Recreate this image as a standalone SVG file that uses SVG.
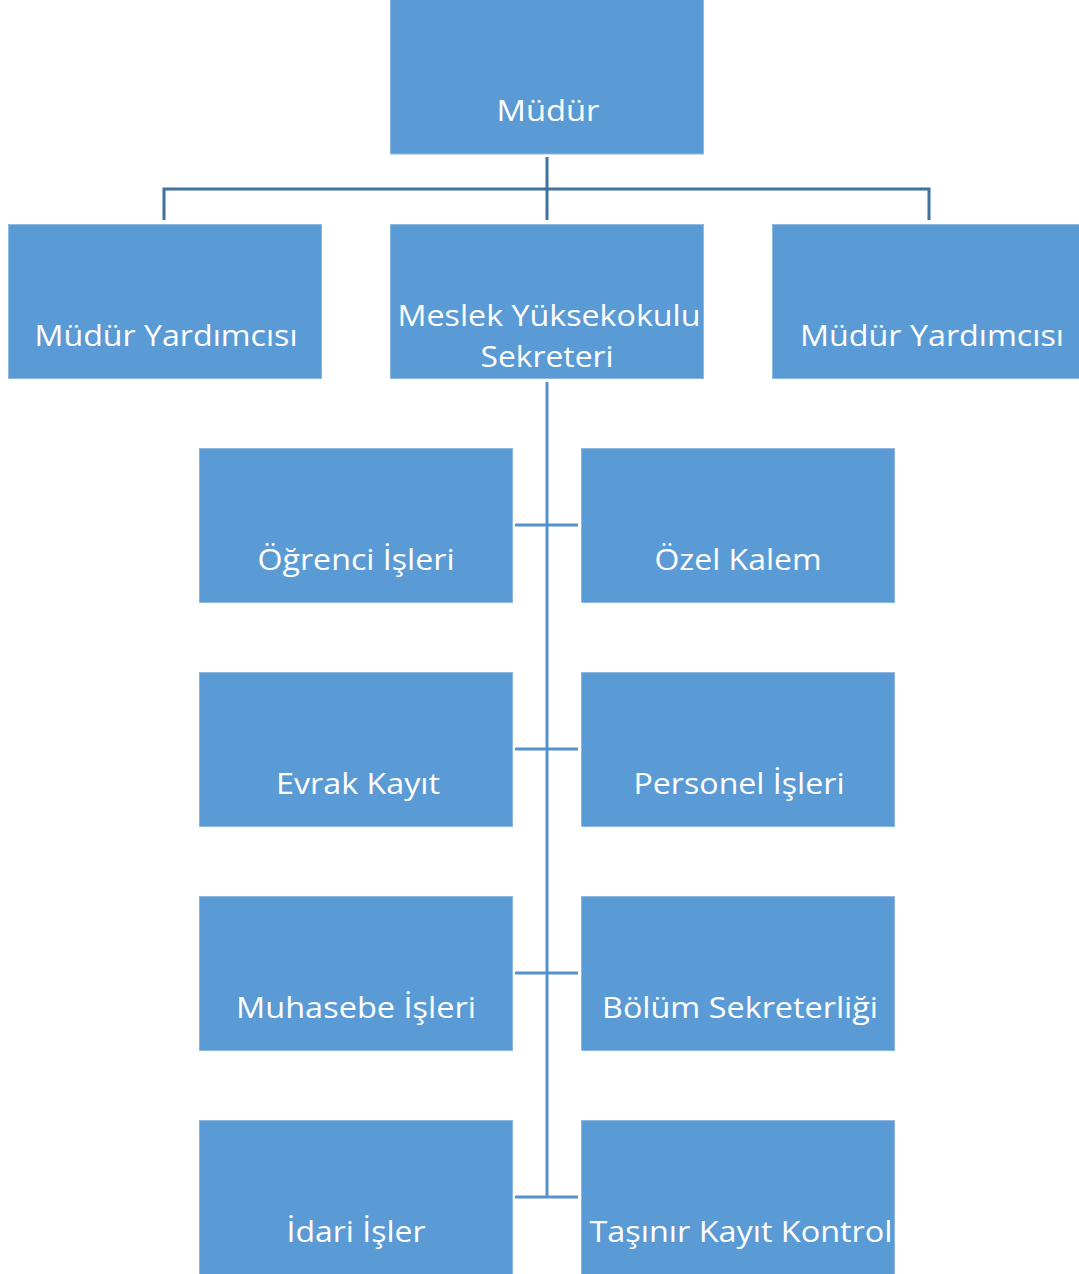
<svg xmlns="http://www.w3.org/2000/svg" width="1079" height="1274" viewBox="0 0 1079 1274">
<style>
.box{fill:#5B9BD5;stroke:#8DB8E2;stroke-width:1}
.t{font-family:"Open Sans","Noto Sans","Liberation Sans",sans-serif;font-size:30px;fill:#FFFFFF;text-anchor:middle}
.c1{stroke:#41719C;stroke-width:3;fill:none}
.c2{stroke:#5592CC;stroke-width:3;fill:none}
</style>
<rect width="1079" height="1274" fill="#FFFFFF"/>
<g id="connectors">
<path class="c1" d="M547,157 V220 M164,220 V189 H929 V220"/>
<path class="c2" d="M547,382 V1197 M515,525 H578 M515,749 H578 M515,973 H578 M515,1197 H578"/>
</g>
<g id="mudur"><rect class="box" x="390.5" y="-1" width="313" height="155"/><text class="t" x="548" y="121" textLength="103" lengthAdjust="spacingAndGlyphs">Müdür</text></g>
<g id="mudur-yard-1"><rect class="box" x="8.5" y="224.5" width="313" height="154"/><text class="t" x="166" y="346" textLength="263" lengthAdjust="spacingAndGlyphs">Müdür Yardımcısı</text></g>
<g id="sekreter"><rect class="box" x="390.5" y="224.5" width="313" height="154"/><text class="t" x="549" y="326" textLength="303" lengthAdjust="spacingAndGlyphs">Meslek Yüksekokulu</text><text class="t" x="547" y="367" textLength="133" lengthAdjust="spacingAndGlyphs">Sekreteri</text></g>
<g id="mudur-yard-2"><rect class="box" x="772.5" y="224.5" width="313" height="154"/><text class="t" x="932" y="346" textLength="264" lengthAdjust="spacingAndGlyphs">Müdür Yardımcısı</text></g>
<g id="ogrenci"><rect class="box" x="199.5" y="448.5" width="313" height="154"/><text class="t" x="356" y="570" textLength="197" lengthAdjust="spacingAndGlyphs">Öğrenci İşleri</text></g>
<g id="ozel"><rect class="box" x="581.5" y="448.5" width="313" height="154"/><text class="t" x="738" y="570" textLength="167" lengthAdjust="spacingAndGlyphs">Özel Kalem</text></g>
<g id="evrak"><rect class="box" x="199.5" y="672.5" width="313" height="154"/><text class="t" x="358" y="794" textLength="164" lengthAdjust="spacingAndGlyphs">Evrak Kayıt</text></g>
<g id="personel"><rect class="box" x="581.5" y="672.5" width="313" height="154"/><text class="t" x="739" y="794" textLength="211" lengthAdjust="spacingAndGlyphs">Personel İşleri</text></g>
<g id="muhasebe"><rect class="box" x="199.5" y="896.5" width="313" height="154"/><text class="t" x="356" y="1018" textLength="240" lengthAdjust="spacingAndGlyphs">Muhasebe İşleri</text></g>
<g id="bolum"><rect class="box" x="581.5" y="896.5" width="313" height="154"/><text class="t" x="740" y="1018" textLength="276" lengthAdjust="spacingAndGlyphs">Bölüm Sekreterliği</text></g>
<g id="idari"><rect class="box" x="199.5" y="1120.5" width="313" height="155"/><text class="t" x="356" y="1242" textLength="139" lengthAdjust="spacingAndGlyphs">İdari İşler</text></g>
<g id="tasinir"><rect class="box" x="581.5" y="1120.5" width="313" height="155"/><text class="t" x="741" y="1242" textLength="303" lengthAdjust="spacingAndGlyphs">Taşınır Kayıt Kontrol</text></g>
</svg>
